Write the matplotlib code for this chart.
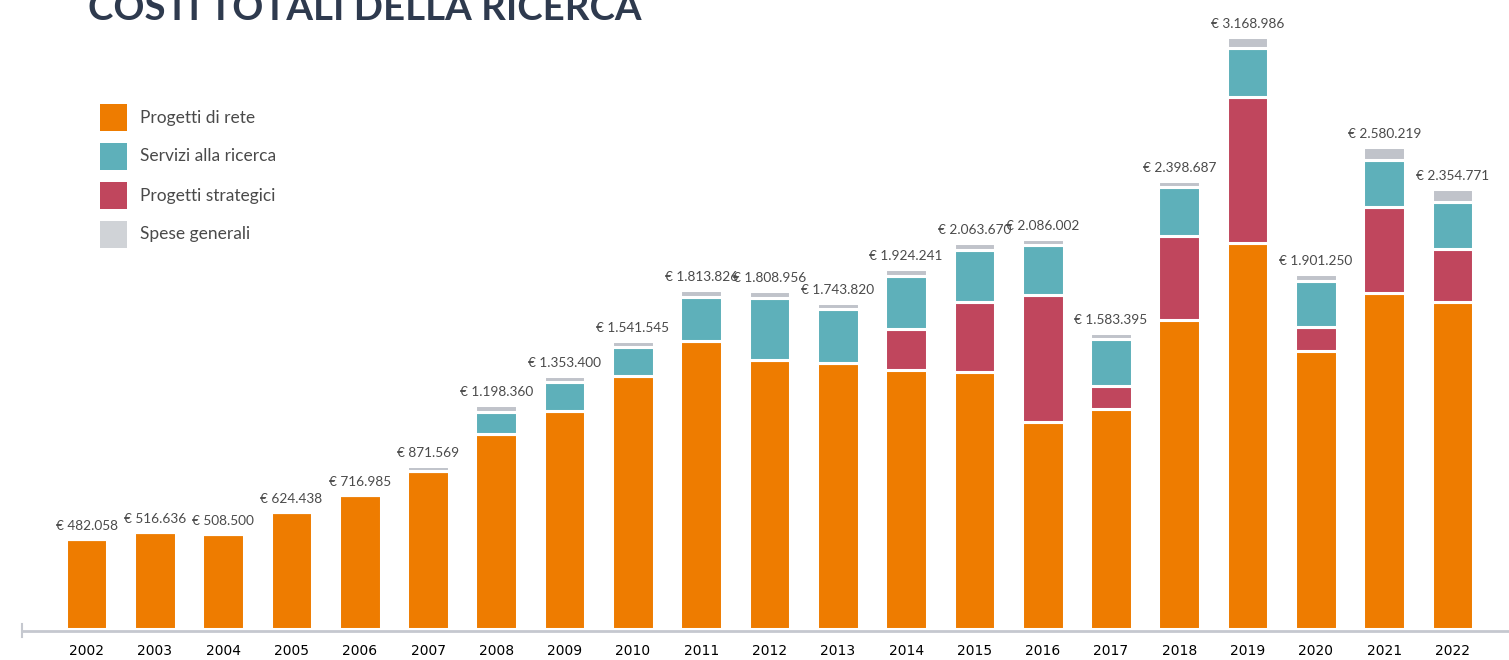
import matplotlib
matplotlib.use("Agg")
import matplotlib.pyplot as plt
from matplotlib.lines import Line2D
from matplotlib.patches import Rectangle
import numpy as np

years = [str(y) for y in range(2002, 2023)]
totals = [482058, 516636, 508500, 624438, 716985, 871569, 1198360, 1353400, 1541545,
          1813826, 1808956, 1743820, 1924241, 2063670, 2086002, 1583395, 2398687,
          3168986, 1901250, 2580219, 2354771]
progetti_rete = [482058, 516636, 508500, 624438, 716985, 847569, 1041460, 1167200, 1353545,
                 1539926, 1438056, 1424120, 1385341, 1374070, 1106302, 1177095, 1655687,
                 2064386, 1489250, 1795519, 1748771]
progetti_strategici = [0, 0, 0, 0, 0, 0, 0, 0, 0,
                       0, 0, 0, 220800, 373800, 679500, 123200, 445800,
                       780200, 124100, 460200, 284400]
servizi_ricerca = [0, 0, 0, 0, 0, 0, 120900, 152100, 153600,
                   236700, 333500, 285400, 283900, 281600, 266000, 249000, 262700,
                   262700, 250900, 252700, 249800]
spese_generali = [0, 0, 0, 0, 0, 24000, 36000, 34100, 34400,
                  37200, 37400, 34300, 34200, 34200, 34200, 34100, 34500,
                  61700, 37000, 71800, 71800]

legend_labels = ["Progetti di rete", "Servizi alla ricerca", "Progetti strategici", "Spese generali"]
COLORS = {"rete": "#ee7c00", "servizi": "#5eb0ba", "strategici": "#c0465d", "spese": "#c0c3ca"}
LEGEND_COLORS = ["#ee7c00", "#5eb0ba", "#c0465d", "#d0d3d7"]
TEXT = "#4a4a4a"
FONT = ["Lato", "DejaVu Sans"]

W, H = 1509, 660
fig = plt.figure(figsize=(W / 100, H / 100), dpi=100)
ax = fig.add_axes([22 / W, (H - 629) / H, (W - 22) / W, 629 / H])

x = np.arange(len(years))
width = 0.61
edge = dict(edgecolor="white", linewidth=2.2)
bottom = np.zeros(len(years))
for values, key in ((progetti_rete, "rete"), (progetti_strategici, "strategici"),
                    (servizi_ricerca, "servizi"), (spese_generali, "spese")):
    vals = np.array(values, dtype=float)
    ax.bar(x, vals, width, bottom=bottom, color=COLORS[key], **edge)
    bottom += vals

for xi, top, total in zip(x, bottom, totals):
    label = "€ " + f"{total:,}".replace(",", ".")
    ax.annotate(label, (xi, top), xytext=(0, 6.5), textcoords="offset points",
                ha="center", va="baseline", fontsize=9.8, color=TEXT, family=FONT)

ax.set_xlim((22 - 86.5) / 68.3, (W - 86.5) / 68.3)
ax.set_ylim(0, 629 * 5350)
ax.set_xticks(x)
ax.set_xticklabels(years, fontsize=10, color=TEXT, family=FONT)
ax.tick_params(axis="x", length=0, pad=9)
ax.set_yticks([])
for side in ("top", "right", "left"):
    ax.spines[side].set_visible(False)
ax.spines["bottom"].set_color("#c5c8cf")
ax.spines["bottom"].set_linewidth(2)
ax.spines["bottom"].set_position(("outward", 1.5))
fig.add_artist(Line2D([22 / W, 22 / W], [(H - 624) / H, (H - 637) / H], color="#c5c8cf", lw=1.5))

# legend, drawn by hand as squares and labels
for i, (name, color) in enumerate(zip(legend_labels, LEGEND_COLORS)):
    y_top = 104 + i * 39
    fig.add_artist(Rectangle((100 / W, (H - y_top - 27) / H), 27 / W, 27 / H,
                             transform=fig.transFigure, color=color, lw=0))
    fig.text(140 / W, (H - y_top - 13.5) / H, name, ha="left", va="center",
             fontsize=12.5, color=TEXT, family=FONT)

fig.text(88 / W, (H - 20) / H, "COSTI TOTALI DELLA RICERCA", ha="left", va="baseline",
         fontsize=27.6, fontweight="bold", color="#2e3a4e", family=FONT)

fig.savefig("out.png", dpi=100)
